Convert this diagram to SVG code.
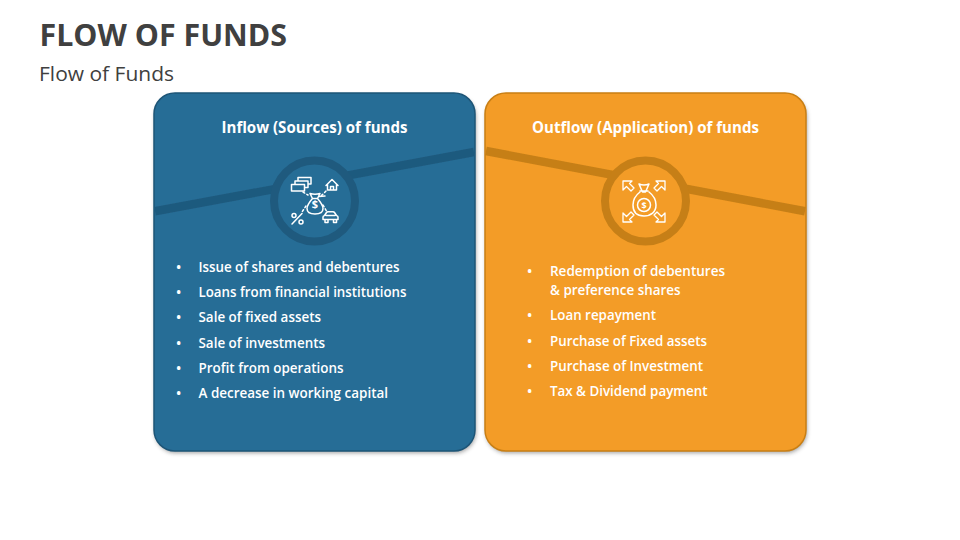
<svg xmlns="http://www.w3.org/2000/svg" width="960" height="540" viewBox="0 0 960 540">
<style>
text{font-family:"Open Sans","Noto Sans","Liberation Sans",sans-serif}
.title{font-size:31px;font-weight:700;fill:#404040}
.sub{font-size:20px;fill:#404040}
.head{font-size:15.5px;font-weight:700;fill:#fff;text-anchor:middle}
.item{font-size:14px;font-weight:600;fill:#fff}
.ic{fill:none;stroke:#fff;stroke-width:1.500;stroke-linejoin:round;stroke-linecap:round}
.dash{stroke-dasharray:2 2.500}
.num{font-weight:700;fill:#fff;text-anchor:middle}
</style>
<defs>
<filter id="sh" x="-5%" y="-5%" width="110%" height="110%"><feGaussianBlur stdDeviation="2"/></filter>
<filter id="soft" x="-5%" y="-20%" width="110%" height="140%"><feGaussianBlur stdDeviation="0.6"/></filter>
<path id="arr" d="M623 181h9l-2.500 2.500l4.500 4.500l-3 3l-4.500-4.500l-3.500 3.500z"/>
</defs>
<g id="title"><text class="title" x="39.500" y="46" textLength="247.500" lengthAdjust="spacingAndGlyphs">FLOW OF FUNDS</text>
<text class="sub" x="39" y="81" textLength="135" lengthAdjust="spacingAndGlyphs">Flow of Funds</text></g>

<g id="inflow">
<rect x="155" y="96" width="321" height="357" rx="21" fill="#555" opacity=".55" filter="url(#sh)"/>
<rect x="154" y="93" width="321" height="358" rx="21" fill="#266d96" stroke="#1d5577" stroke-width="1.500"/>
<path d="M155 211.300L474 152" stroke="#1f5a7e" stroke-width="8.500" fill="none" filter="url(#soft)"/>
<circle cx="314.500" cy="201" r="40.500" fill="#266d96" stroke="#1f5a7e" stroke-width="8"/>
<g class="ic">
<path d="M291.500 184.500h13v6.500h-13z M295 184.500v-3.500h13v6.500h-3.500 M298 181v-3.500h13v6.500h-3"/>
<path d="M326 185.500l6-6l6 6M327.500 184.500v5.500h9v-5.500M330.500 190v-3.500h3v3.500"/>
<path d="M310 193.500q5 1.500 10 0l-2.500 5h-5z M312.500 198.500c-3 3.500-5.500 7-5.500 10c0 3.500 3 5.500 8 5.500s8-2 8-5.500c0-3-2.500-6.500-5.500-10"/>
<path d="M319 196.500l6-.5"/>
<path d="M302 213.500l-10 10.500"/>
<circle cx="294" cy="215.500" r="2"/><circle cx="301" cy="222" r="2"/>
<path d="M323 219.500v-2.500q0-1 1.500-1.500l2-3q.5-.7 1.500-.7h5q1 0 1.500 .7l2 3q1.500 .5 1.500 1.500v2.500zM325 219.500v3h3v-3M333.500 219.500v3h3v-3M326 215.500h9"/>
<path class="dash" d="M303 192l5 3M326 191l-5 5M306 206l-4 6M323 205l4 7"/>
</g>
<text class="num" font-size="11" x="315" y="208">$</text>
<text class="head" x="314.500" y="133" textLength="186" lengthAdjust="spacingAndGlyphs">Inflow (Sources) of funds</text>
<g>
<text class="item" x="176" y="272">•</text><text class="item" x="198.500" y="272" textLength="201" lengthAdjust="spacingAndGlyphs">Issue of shares and debentures</text>
<text class="item" x="176" y="297">•</text><text class="item" x="198.500" y="297" textLength="208" lengthAdjust="spacingAndGlyphs">Loans from financial institutions</text>
<text class="item" x="176" y="322">•</text><text class="item" x="198.500" y="322" textLength="122.500" lengthAdjust="spacingAndGlyphs">Sale of fixed assets</text>
<text class="item" x="176" y="348">•</text><text class="item" x="198.500" y="348" textLength="126.500" lengthAdjust="spacingAndGlyphs">Sale of investments</text>
<text class="item" x="176" y="373">•</text><text class="item" x="198.500" y="373" textLength="145" lengthAdjust="spacingAndGlyphs">Profit from operations</text>
<text class="item" x="176" y="398">•</text><text class="item" x="198.500" y="398" textLength="189.500" lengthAdjust="spacingAndGlyphs">A decrease in working capital</text>
</g>
</g>

<g id="outflow">
<rect x="486" y="96" width="321" height="357" rx="21" fill="#555" opacity=".55" filter="url(#sh)"/>
<rect x="485" y="93" width="321" height="358" rx="21" fill="#f39c27" stroke="#c97f14" stroke-width="1.500"/>
<path d="M486 151L805 211.300" stroke="#c67f17" stroke-width="8.500" fill="none" filter="url(#soft)"/>
<circle cx="645.500" cy="201" r="40.500" fill="#f39c27" stroke="#c67f17" stroke-width="8"/>
<g class="ic">
<path d="M639 184q5 2 10 0l-3.500 8h-3z M640 191h8"/>
<path d="M640 192c-4 3-7 8-7 13c0 7 4 11 11 11s12-4 12-11c0-5-3-10-7-13"/>
<circle cx="644" cy="205" r="6.500"/>
<use href="#arr" stroke-width="1.300"/>
<use href="#arr" stroke-width="1.300" transform="translate(1288 0) scale(-1 1)"/>
<use href="#arr" stroke-width="1.300" transform="translate(0 403) scale(1 -1)"/>
<use href="#arr" stroke-width="1.300" transform="translate(1288 403) scale(-1 -1)"/>
</g>
<text class="num" font-size="9" x="644" y="208.500">$</text>
<text class="head" x="645.500" y="133" textLength="227" lengthAdjust="spacingAndGlyphs">Outflow (Application) of funds</text>
<g>
<text class="item" x="527" y="276">•</text><text class="item" x="550" y="276" textLength="175" lengthAdjust="spacingAndGlyphs">Redemption of debentures</text>
<text class="item" x="550" y="295" textLength="130.500" lengthAdjust="spacingAndGlyphs">&amp; preference shares</text>
<text class="item" x="527" y="320">•</text><text class="item" x="550" y="320" textLength="106" lengthAdjust="spacingAndGlyphs">Loan repayment</text>
<text class="item" x="527" y="346">•</text><text class="item" x="550" y="346" textLength="157" lengthAdjust="spacingAndGlyphs">Purchase of Fixed assets</text>
<text class="item" x="527" y="371">•</text><text class="item" x="550" y="371" textLength="153" lengthAdjust="spacingAndGlyphs">Purchase of Investment</text>
<text class="item" x="527" y="396">•</text><text class="item" x="550" y="396" textLength="157.500" lengthAdjust="spacingAndGlyphs">Tax &amp; Dividend payment</text>
</g>
</g>
</svg>
